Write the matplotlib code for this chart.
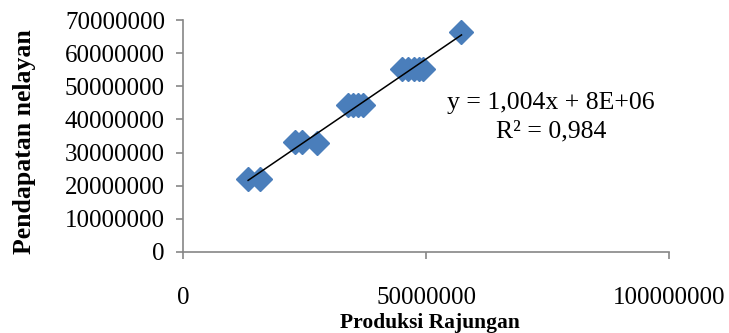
import numpy as np
import matplotlib.pyplot as plt

plt.rcParams['font.family'] = ['Liberation Serif', 'DejaVu Serif']

# Produksi Rajungan (x) and Pendapatan nelayan (y)
produksi = [13.4e6, 15.8e6, 23.0e6, 24.4e6, 27.5e6,
            34.0e6, 35.0e6, 36.0e6, 37.0e6,
            45.0e6, 46.2e6, 47.5e6, 48.5e6, 49.4e6,
            57.3e6]
pendapatan = [22.0e6, 22.0e6, 33.3e6, 33.3e6, 33.0e6,
              44.3e6, 44.3e6, 44.3e6, 44.3e6,
              55.2e6, 55.2e6, 55.2e6, 55.2e6, 55.2e6,
              66.3e6]

x_ticks = [0, 50000000, 100000000]
y_ticks = [0, 10000000, 20000000, 30000000, 40000000, 50000000, 60000000, 70000000]

x = np.array(produksi)
y = np.array(pendapatan)
slope, intercept = np.polyfit(x, y, 1)
xl = np.array([x.min(), x.max()])

W, H = 729, 333
fig = plt.figure(figsize=(W / 100, H / 100), dpi=100)
ax = fig.add_axes([183 / W, 1 - 252 / H, (669 - 183) / W, (252 - 20) / H])

ax.plot(x, y, linestyle='none', marker='D', markersize=12,
        color='#4A7EBB', markeredgecolor='#4A7EBB', zorder=2)
ax.plot(xl, slope * xl + intercept, color='black', linewidth=1.1, zorder=3)

ax.set_xlim(0, 100000000)
ax.set_ylim(0, 70000000)
ax.set_xticks(x_ticks)
ax.set_yticks(y_ticks)
ax.set_xticklabels([str(v) for v in x_ticks])
ax.set_yticklabels([str(v) for v in y_ticks])

for s in ['top', 'right']:
    ax.spines[s].set_visible(False)
for s in ['left', 'bottom']:
    ax.spines[s].set_color('#868686')
    ax.spines[s].set_linewidth(1.2)

ax.tick_params(axis='both', colors='#868686', length=5, width=1.2,
               labelcolor='black', labelsize=18)
ax.tick_params(axis='x', pad=20)
ax.tick_params(axis='y', pad=8)

# axis titles placed in pixel positions (top-left origin)
fig.text(430 / W, 1 - 323 / H, 'Produksi Rajungan', fontsize=15.5, fontweight='bold',
         ha='center', va='center')
fig.text(25 / W, 1 - 142 / H, 'Pendapatan nelayan', fontsize=18.5, fontweight='bold',
         ha='center', va='center', rotation=90)

fig.text(551 / W, 1 - 103 / H, 'y = 1,004x + 8E+06', fontsize=18.5,
         ha='center', va='center')
fig.text(551 / W, 1 - 131 / H, 'R² = 0,984', fontsize=18.5,
         ha='center', va='center')

fig.savefig('out.png', dpi=100)
